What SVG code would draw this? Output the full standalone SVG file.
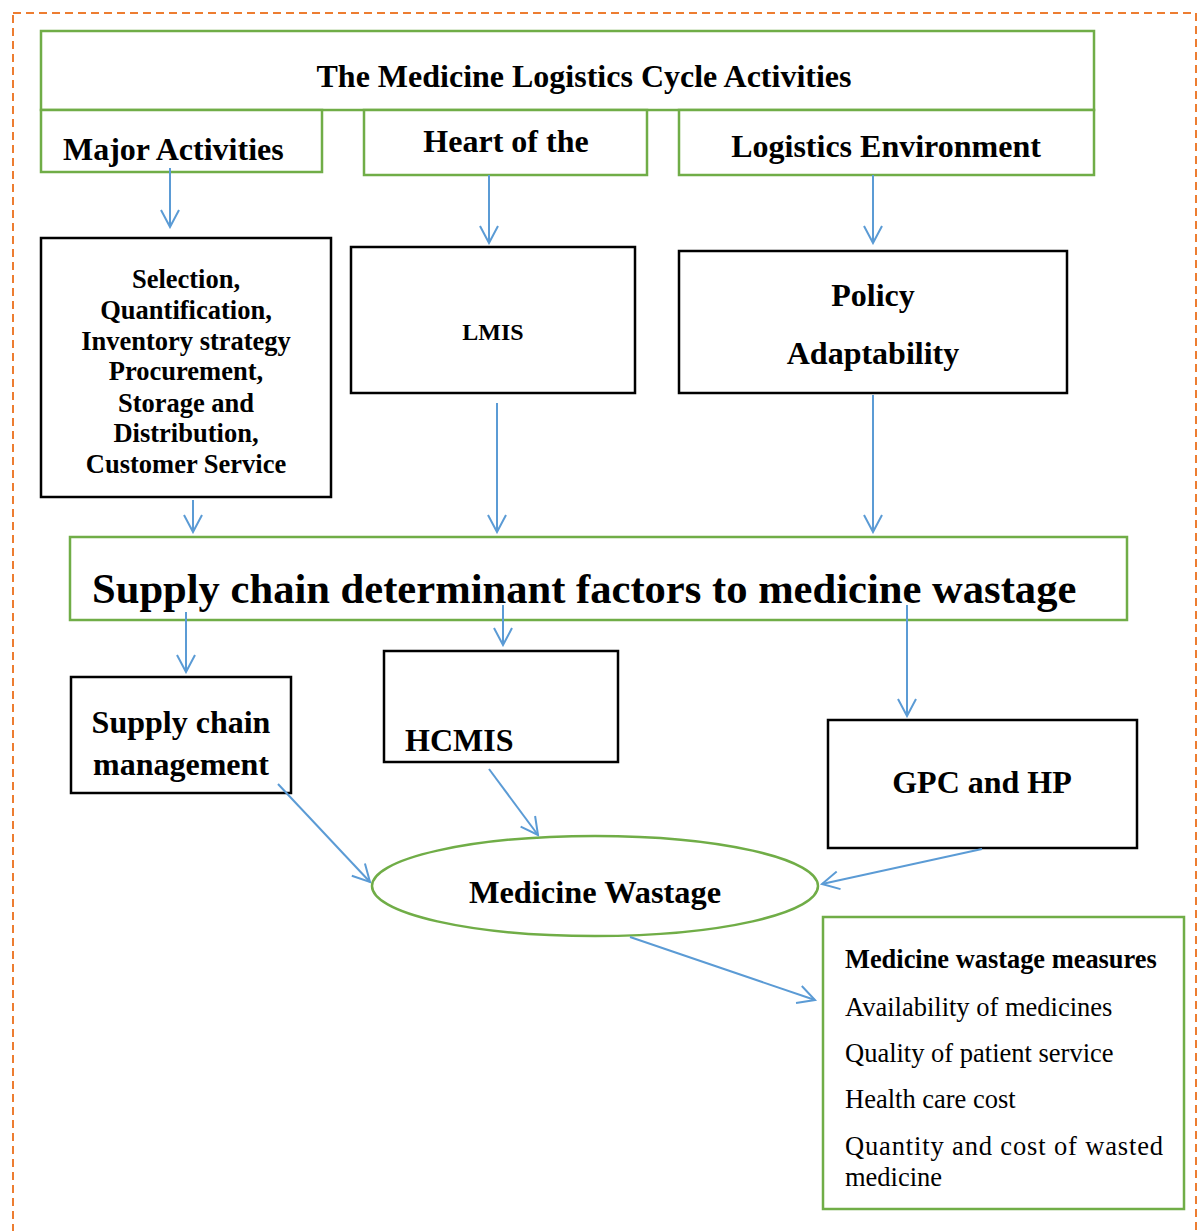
<svg xmlns="http://www.w3.org/2000/svg" width="1197" height="1231" viewBox="0 0 1197 1231">
<style>
text{font-family:"Liberation Serif","Times New Roman",serif;fill:#000}
.b{font-weight:bold}
.g{fill:#fff;stroke:#70AD47;stroke-width:2.5}
.k{fill:#fff;stroke:#000;stroke-width:2.5}
.c{fill:none;stroke:#5B9BD5;stroke-width:2;marker-end:url(#ah)}
</style>
<defs>
<marker id="ah" viewBox="0 0 20 20" refX="18" refY="10" markerWidth="20" markerHeight="20" markerUnits="userSpaceOnUse" orient="auto">
<path d="M1,1 L18,10 L1,19" fill="none" stroke="#5B9BD5" stroke-width="2"/>
</marker>
</defs>
<rect x="13" y="13" width="1183" height="1240" fill="none" stroke="#ED7D31" stroke-width="2" stroke-dasharray="8,5"/>
<g id="title"><rect class="g" x="41" y="31" width="1053" height="79"/><text class="b" x="584" y="87" font-size="32" text-anchor="middle">The Medicine Logistics Cycle Activities</text></g>
<g id="major"><rect class="g" x="41" y="110" width="281" height="62"/><text class="b" x="63" y="160" font-size="32">Major Activities</text></g>
<g id="heart"><rect class="g" x="364" y="110" width="283" height="65"/><text class="b" x="506" y="152" font-size="32" text-anchor="middle">Heart of the</text></g>
<g id="logenv"><rect class="g" x="679" y="110" width="415" height="65"/><text class="b" x="886" y="157" font-size="32" text-anchor="middle">Logistics Environment</text></g>
<g id="selection"><rect class="k" x="41" y="238" width="290" height="259"/>
<text class="b" font-size="26.5" text-anchor="middle"><tspan x="186" y="288">Selection,</tspan><tspan x="186" y="319">Quantification,</tspan><tspan x="186" y="350">Inventory strategy</tspan><tspan x="186" y="380">Procurement,</tspan><tspan x="186" y="412">Storage and</tspan><tspan x="186" y="442">Distribution,</tspan><tspan x="186" y="473">Customer Service</tspan></text></g>
<g id="lmis"><rect class="k" x="351" y="247" width="284" height="146"/><text class="b" x="493" y="340" font-size="24" text-anchor="middle">LMIS</text></g>
<g id="policy"><rect class="k" x="679" y="251" width="388" height="142"/><text class="b" x="873" y="306" font-size="32" text-anchor="middle">Policy</text><text class="b" x="873" y="364" font-size="32" text-anchor="middle">Adaptability</text></g>
<g id="determinant"><rect class="g" x="70" y="537" width="1057" height="83"/><text class="b" x="92" y="603" font-size="42.6">Supply chain determinant factors to medicine wastage</text></g>
<g id="scm"><rect class="k" x="71" y="677" width="220" height="116"/><text class="b" x="181" y="733" font-size="32" text-anchor="middle">Supply chain</text><text class="b" x="181" y="775" font-size="32" text-anchor="middle">management</text></g>
<g id="hcmis"><rect class="k" x="384" y="651" width="234" height="111"/><text class="b" x="405" y="751" font-size="32">HCMIS</text></g>
<g id="gpc"><rect class="k" x="828" y="720" width="309" height="128"/><text class="b" x="982" y="793" font-size="32" text-anchor="middle">GPC and HP</text></g>
<g id="wastage"><ellipse cx="595" cy="886" rx="223" ry="50" fill="#fff" stroke="#70AD47" stroke-width="2.5"/><text class="b" x="595" y="903" font-size="32.4" text-anchor="middle">Medicine Wastage</text></g>
<g id="measures"><rect class="g" x="823" y="917" width="361" height="292"/>
<text class="b" x="845" y="968" font-size="26.4">Medicine wastage measures</text>
<text x="845" y="1016" font-size="26.5">Availability of medicines</text>
<text x="845" y="1062" font-size="26.5">Quality of patient service</text>
<text x="845" y="1108" font-size="26.5">Health care cost</text>
<text x="845" y="1155" font-size="26.5" textLength="318" lengthAdjust="spacing">Quantity and cost of wasted</text>
<text x="845" y="1186" font-size="26.5">medicine</text></g>
<g id="connectors">
<path class="c" d="M170,168 V227"/>
<path class="c" d="M489,175 V243"/>
<path class="c" d="M873,175 V243"/>
<path class="c" d="M193,500 V532"/>
<path class="c" d="M497,403 V532"/>
<path class="c" d="M873,395 V532"/>
<path class="c" d="M186,612 V672"/>
<path class="c" d="M503,605 V645"/>
<path class="c" d="M907,605 V716"/>
<path class="c" d="M278,784 L370,882"/>
<path class="c" d="M489,769 L538,835"/>
<path class="c" d="M982,849 L822,884"/>
<path class="c" d="M630,937 L815,1000"/>
</g>
</svg>
